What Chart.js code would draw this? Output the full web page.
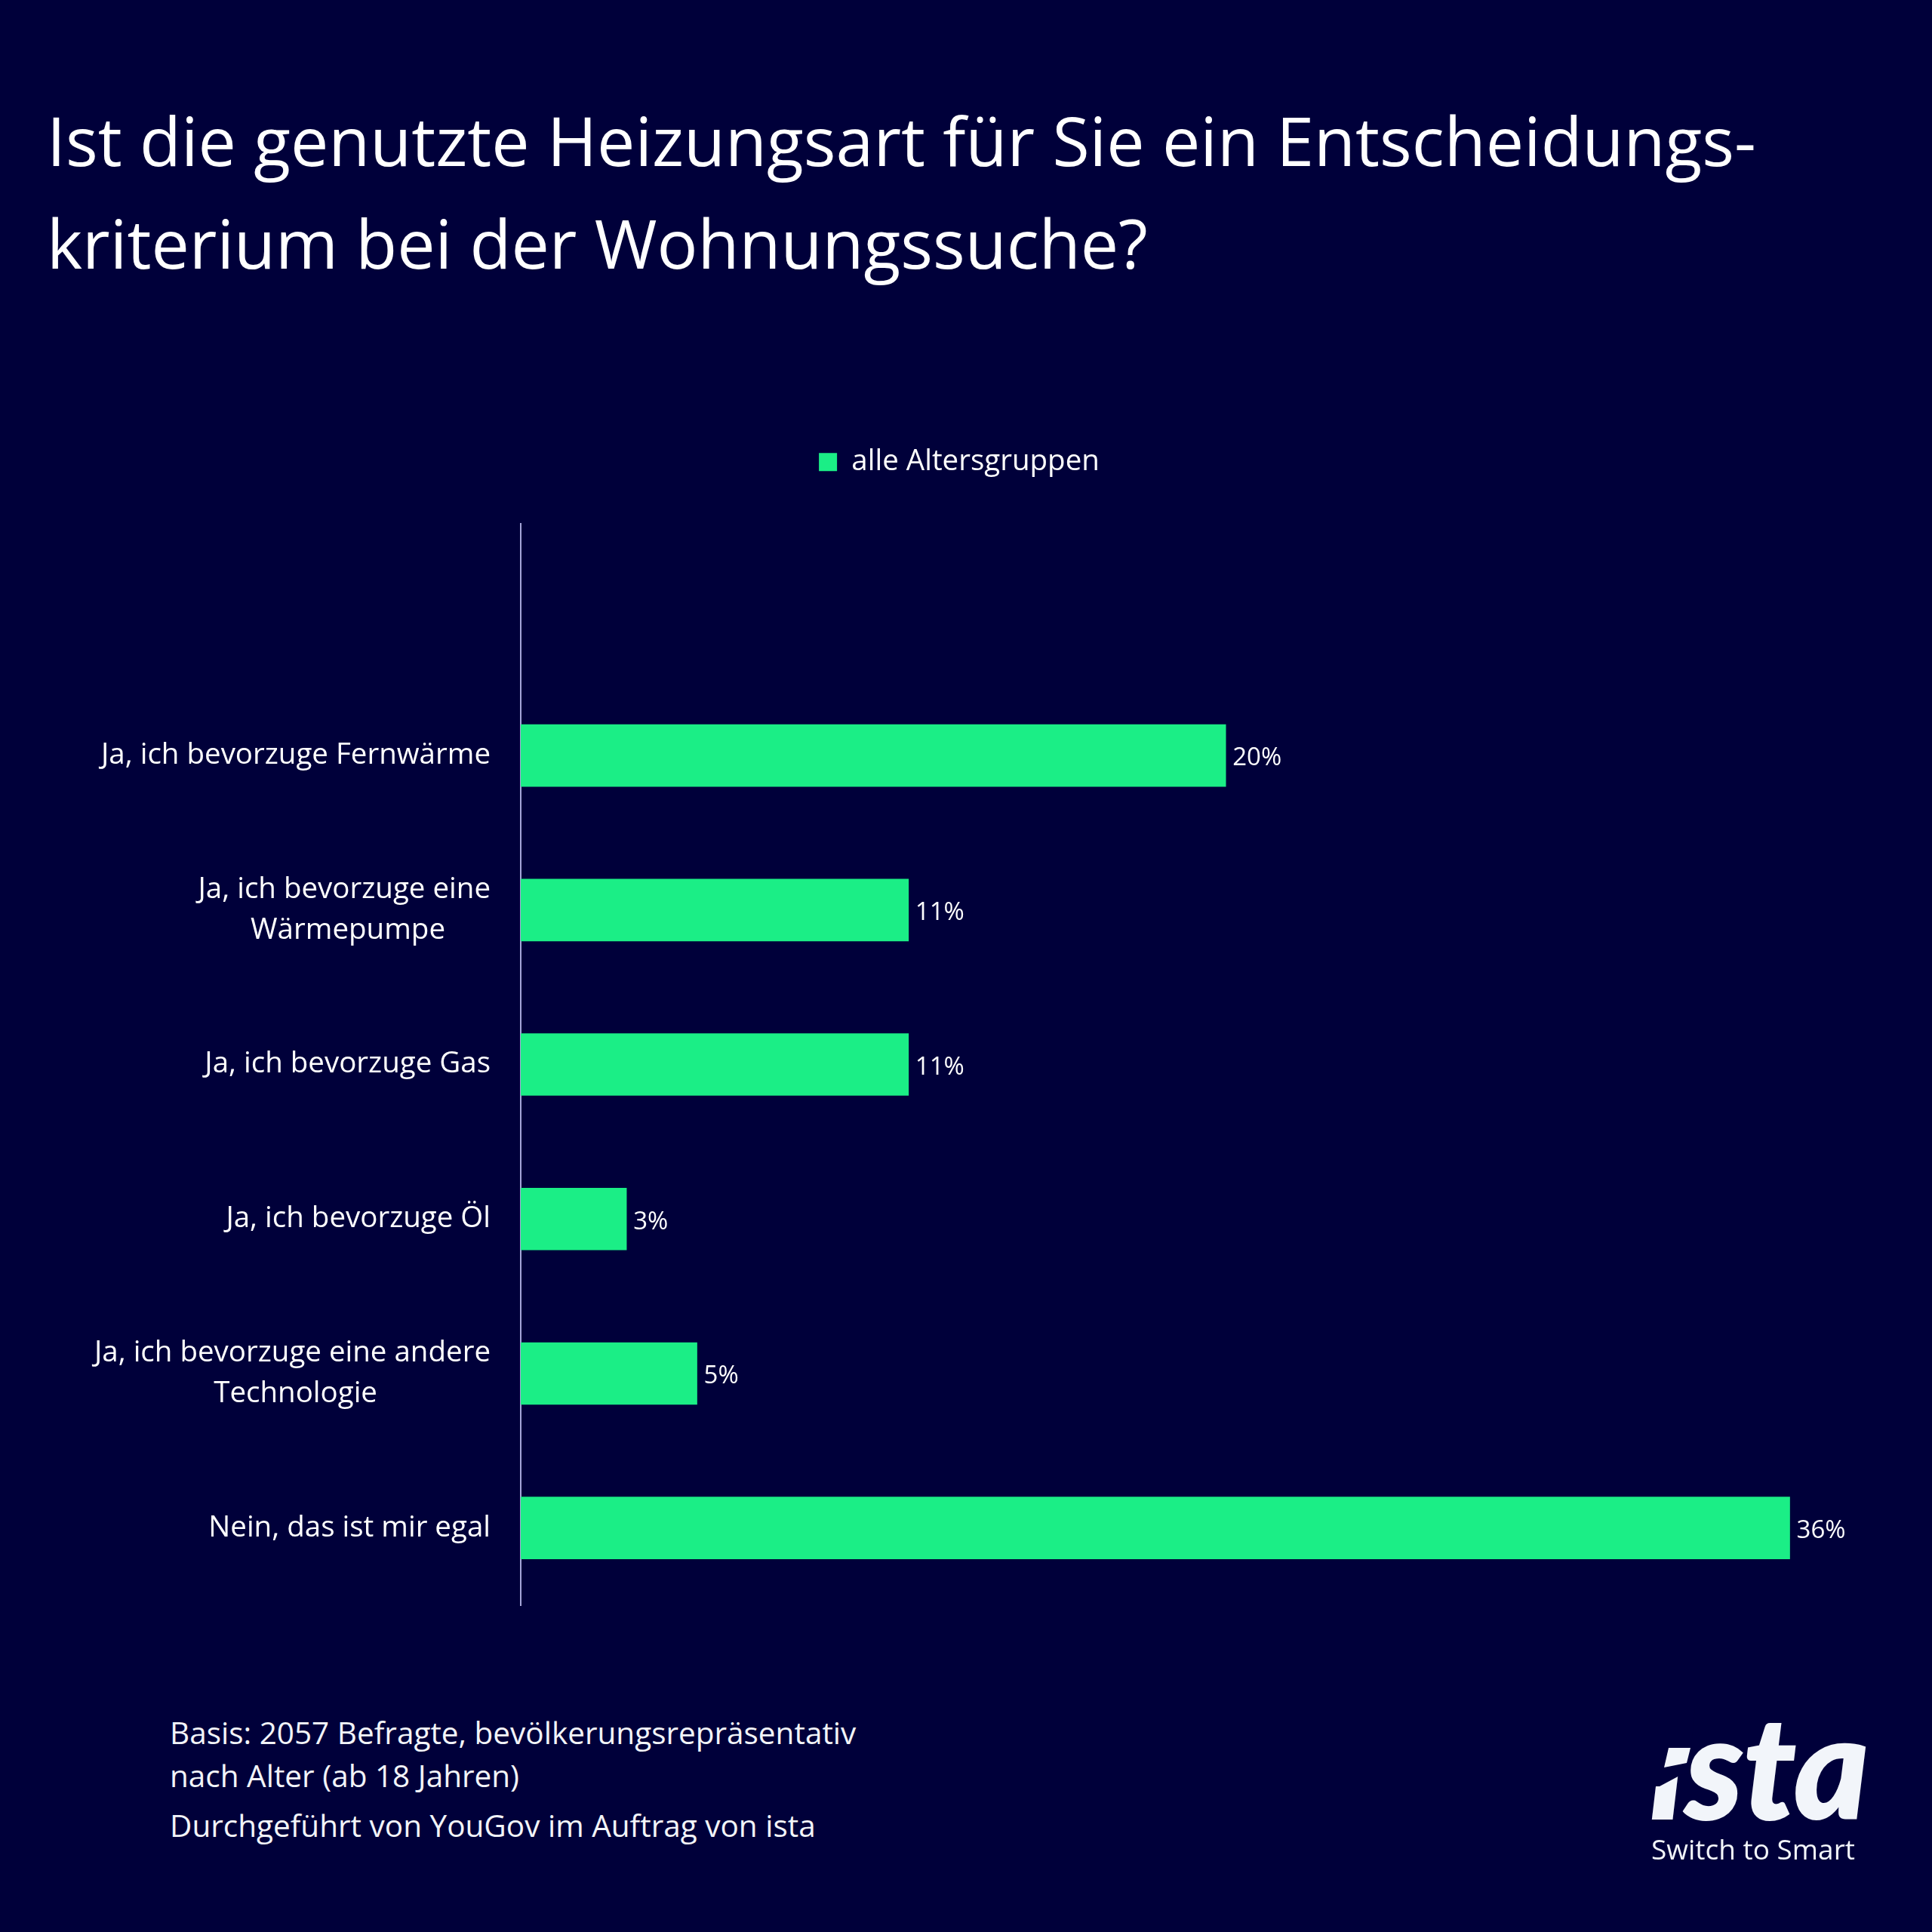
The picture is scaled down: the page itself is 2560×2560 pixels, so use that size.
<!DOCTYPE html>
<html lang="de">
<head>
<meta charset="utf-8">
<title>Heizungsart</title>
<script src="https://cdn.jsdelivr.net/npm/chart.js@4"></script>
<style>
html, body { margin: 0; padding: 0; background: #00003a; }
#page { position: relative; width: 2560px; height: 2560px; background: #00003a; color: #fff; font-family: "Open Sans", sans-serif; overflow: hidden; }
#page div { position: absolute; white-space: nowrap; }
#wrap { left: 0; top: 531px; width: 2542px; height: 1655px; }
#title { left: 62px; top: 117px; font-size: 89.7px; font-weight: 500; line-height: 136px; }
.note { left: 225px; font-size: 40.5px; line-height: 50px; color: #f2f4f8; }
#logo { left: 2186px; top: 2237px; font-family: Lato, sans-serif; font-weight: 900; font-style: italic; font-size: 188px; line-height: 200px; color: #f2f5fa; -webkit-text-stroke: 2px #f2f5fa; }
#logoCut { position: absolute; left: 0; top: 0; }
#claim { left: 2188px; top: 2425px; font-size: 37px; line-height: 50px; color: #f2f5fa; }
</style>
</head>
<body>
<div id="page">
  <div id="title">Ist die genutzte Heizungsart für Sie ein Entscheidungs-<br>kriterium bei der Wohnungssuche?</div>
  <div id="wrap"><canvas id="chartHeizung"></canvas></div>
  <div class="note" style="top:2271px">Basis: 2057 Befragte, bevölkerungsrepräsentativ</div>
  <div class="note" style="top:2328px">nach Alter (ab 18 Jahren)</div>
  <div class="note" style="top:2394px">Durchgeführt von YouGov im Auftrag von ista</div>
  <div id="logo">ista</div>
  <!-- i-Punkt des Logos ist eine schraege Flaeche -->
  <svg id="logoCut" width="2560" height="2560">
    <polygon points="2190,2260 2246,2260 2238,2350 2227,2352 2199,2367 2190,2367" fill="#00003a"/>
    <polygon points="2211,2316 2240,2316 2235,2336 2205,2342" fill="#f2f5fa"/>
  </svg>
  <div id="claim">Switch to Smart</div>
</div>
<script>
const categories = [
    '',
    'Ja, ich bevorzuge Fernwärme',
    ['Ja, ich bevorzuge eine', 'Wärmepumpe'],
    'Ja, ich bevorzuge Gas',
    'Ja, ich bevorzuge Öl',
    ['Ja, ich bevorzuge eine andere', 'Technologie'],
    'Nein, das ist mir egal'
];
const seriesName = 'alle Altersgruppen';
const seriesValues = [null, 20, 11, 11, 3, 5, 36];

const fontFamily = '"Open Sans", sans-serif';
const labelFont = { family: fontFamily, size: 38.5, lineHeight: 1.4 };

// Mehrzeilige Labels sind im Original als Block zentriert
const measureCtx = document.createElement('canvas').getContext('2d');
function centerLines(label) {
    if (!Array.isArray(label)) return label;
    measureCtx.font = '38.5px ' + fontFamily;
    const widest = Math.max(...label.map(l => measureCtx.measureText(l).width));
    const space = measureCtx.measureText('\u00A0').width;
    return label.map(l => {
        const n = Math.round((widest - measureCtx.measureText(l).width) / 2 / space);
        return l + '\u00A0'.repeat(n);
    });
}

const valueLabels = {
    id: 'valueLabels',
    afterDatasetsDraw(chart) {
        const ctx = chart.ctx;
        const meta = chart.getDatasetMeta(0);
        ctx.save();
        ctx.font = '33px ' + fontFamily;
        ctx.fillStyle = '#ffffff';
        ctx.textAlign = 'left';
        ctx.textBaseline = 'middle';
        meta.data.forEach((bar, i) => {
            if (seriesValues[i] === null) return;
            ctx.fillText(seriesValues[i] + '%', bar.x + 9, bar.y + 4);
        });
        ctx.restore();
    }
};

// Abstand zwischen Legende und Diagramm
const legendGap = {
    id: 'legendGap',
    beforeInit(chart) {
        const fit = chart.legend.fit;
        chart.legend.fit = function () {
            fit.call(this);
            this.height = 163;
        };
    }
};

document.fonts.load('38px "Open Sans"').finally(() => {
    new Chart(document.getElementById('chartHeizung'), {
        type: 'bar',
        data: {
            labels: categories,
            datasets: [{
                label: seriesName,
                data: seriesValues,
                backgroundColor: '#1bee86',
                borderWidth: 0,
                barThickness: 82
            }]
        },
        options: {
            indexAxis: 'y',
            responsive: true,
            maintainAspectRatio: false,
            animation: false,
            devicePixelRatio: 1,
            layout: { padding: 0 },
            scales: {
                x: { display: false, min: 0, max: 39.65 },
                y: {
                    afterFit(scale) { scale.width = 690; },
                    grid: { display: false },
                    border: { display: true, color: '#a5a5d8', width: 2 },
                    ticks: {
                        color: '#ffffff',
                        font: labelFont,
                        padding: 32,
                        autoSkip: false,
                        callback(value) { return centerLines(categories[value]); }
                    }
                }
            },
            plugins: {
                legend: {
                    display: true,
                    position: 'top',
                    labels: {
                        color: '#ffffff',
                        font: labelFont,
                        boxWidth: 24,
                        boxHeight: 24,
                        padding: 62
                    }
                },
                tooltip: { enabled: false }
            }
        },
        plugins: [legendGap, valueLabels]
    });
});
</script>
</body>
</html>
